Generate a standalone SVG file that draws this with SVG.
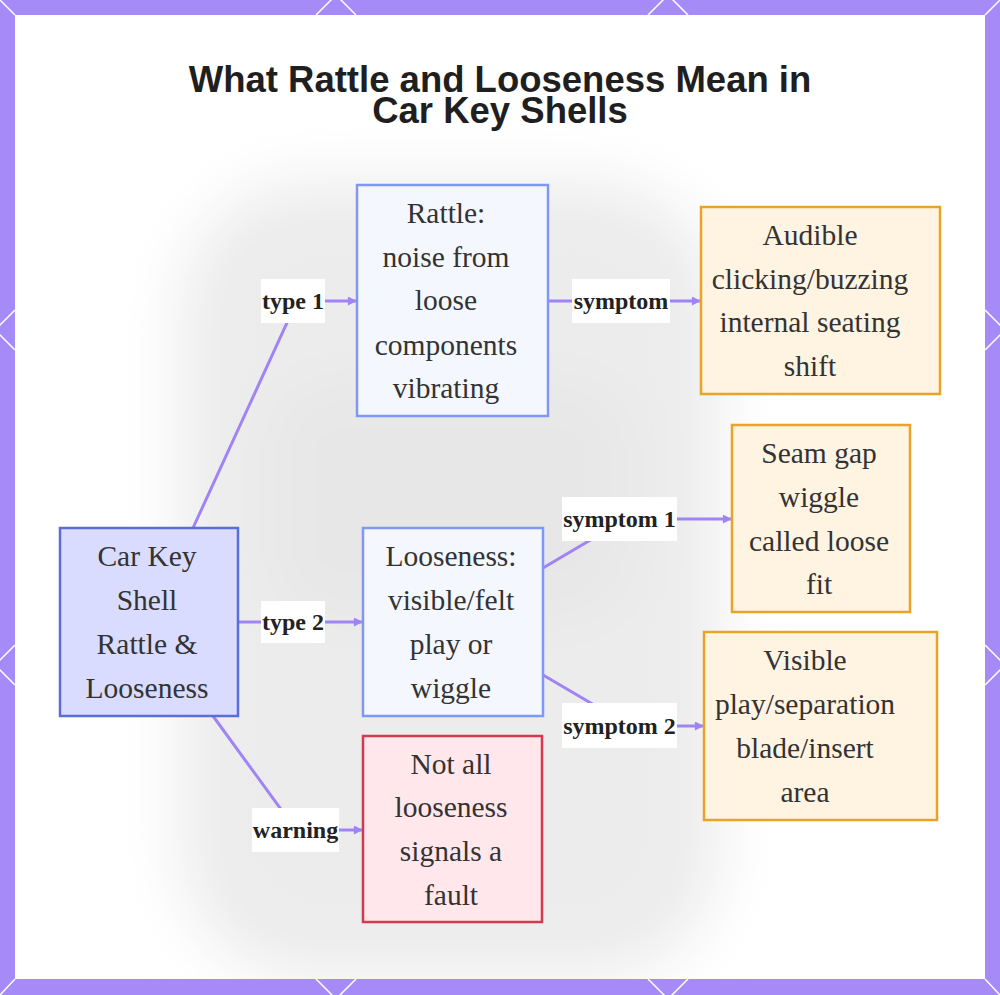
<svg xmlns="http://www.w3.org/2000/svg" width="1000" height="995" viewBox="0 0 1000 995">
<defs>
<filter id="blur" x="-30%" y="-30%" width="160%" height="160%"><feGaussianBlur stdDeviation="30"/></filter>
<clipPath id="inner"><rect x="15" y="15" width="970" height="964"/></clipPath>
<marker id="arr" viewBox="0 0 10 10" refX="9" refY="5" markerWidth="10" markerHeight="9" markerUnits="userSpaceOnUse" orient="auto"><path d="M0,0 L10,5 L0,10 z" fill="#a084f5"/></marker>
<style>
.title{font-family:"Liberation Sans",Arial,sans-serif;font-weight:bold;font-size:36.5px;fill:#1f1f1f;text-anchor:middle}
.nt{font-family:"Liberation Serif","Times New Roman",serif;font-size:29.5px;fill:#333;text-anchor:middle}
.lb{font-family:"Liberation Serif","Times New Roman",serif;font-size:24px;font-weight:bold;fill:#222;text-anchor:middle}
.lbg{fill:#ffffff}
.edge{fill:none;stroke:#a084f5;stroke-width:3}
.blue{fill:#f5f7ff;stroke:#7f97f5;stroke-width:2.5}
.root{fill:#d9dcff;stroke:#5a6ed8;stroke-width:2.5}
.warn{fill:#ffe7eb;stroke:#d23a50;stroke-width:2.5}
.sym{fill:#fff3e2;stroke:#e9a326;stroke-width:2.5}
.fl{stroke:#ffffff;stroke-width:1.5;fill:none}
</style>
</defs>
<rect x="0" y="0" width="1000" height="995" fill="#a58af8"/>
<rect x="15" y="15" width="970" height="964" fill="#ffffff"/>
<g id="background" clip-path="url(#inner)">
<g filter="url(#blur)">
<rect x="180" y="180" width="540" height="800" rx="130" fill="#ececec"/>
<rect x="270" y="380" width="360" height="240" rx="60" fill="#e7e7e7"/>
</g>
</g>
<g id="frame-lines">
<path class="fl" d="M0,0 L15,15 M1000,0 L985,15 M0,995 L15,979 M1000,995 L985,979"/>
<path class="fl" d="M316,15 L336,-5 L356,15 M648,15 L668,-5 L688,15"/>
<path class="fl" d="M316,979 L336,999 L356,979 M648,979 L668,999 L688,979"/>
<path class="fl" d="M15,310 L-5,330 L15,350 M15,645 L-5,665 L15,685"/>
<path class="fl" d="M985,310 L1005,330 L985,350 M985,645 L1005,665 L985,685"/>
</g>
<g id="title">
<text class="title" x="500" y="92">What Rattle and Looseness Mean in</text>
<text class="title" x="500" y="123">Car Key Shells</text>
</g>
<g id="connectors">
<path class="edge" d="M193,528 L297,301 L356,301" marker-end="url(#arr)"/>
<path class="edge" d="M238,622 L362,622" marker-end="url(#arr)"/>
<path class="edge" d="M213,716 L296,830 L362,830" marker-end="url(#arr)"/>
<path class="edge" d="M548,301 L700,301" marker-end="url(#arr)"/>
<path class="edge" d="M543,568 L626,519 L731,519" marker-end="url(#arr)"/>
<path class="edge" d="M543,675 L630,726 L703,726" marker-end="url(#arr)"/>
<rect class="lbg" x="261" y="279" width="64" height="44"/>
<text class="lb" x="293" y="309">type 1</text>
<rect class="lbg" x="261" y="601" width="64" height="42"/>
<text class="lb" x="293" y="630">type 2</text>
<rect class="lbg" x="252" y="808" width="87" height="44"/>
<text class="lb" x="295.5" y="838">warning</text>
<rect class="lbg" x="572" y="279" width="98" height="44"/>
<text class="lb" x="621" y="309">symptom</text>
<rect class="lbg" x="562" y="497" width="115" height="44"/>
<text class="lb" x="619.5" y="527">symptom 1</text>
<rect class="lbg" x="562" y="703" width="115" height="45"/>
<text class="lb" x="619.5" y="734">symptom 2</text>
</g>
<g id="node-root">
<rect class="root" x="60" y="528" width="178" height="188"/>
<text class="nt" x="147" y="566">Car Key</text>
<text class="nt" x="147" y="610">Shell</text>
<text class="nt" x="147" y="654">Rattle &amp;</text>
<text class="nt" x="147" y="698">Looseness</text>
</g>
<g id="node-rattle">
<rect class="blue" x="357" y="185" width="191" height="231"/>
<text class="nt" x="446" y="223">Rattle:</text>
<text class="nt" x="446" y="267">noise from</text>
<text class="nt" x="446" y="310">loose</text>
<text class="nt" x="446" y="355">components</text>
<text class="nt" x="446" y="398">vibrating</text>
</g>
<g id="node-looseness">
<rect class="blue" x="363" y="528" width="180" height="188"/>
<text class="nt" x="451" y="566">Looseness:</text>
<text class="nt" x="451" y="610">visible/felt</text>
<text class="nt" x="451" y="654">play or</text>
<text class="nt" x="451" y="698">wiggle</text>
</g>
<g id="node-warning">
<rect class="warn" x="363" y="736" width="179" height="186"/>
<text class="nt" x="451" y="774">Not all</text>
<text class="nt" x="451" y="817">looseness</text>
<text class="nt" x="451" y="861">signals a</text>
<text class="nt" x="451" y="905">fault</text>
</g>
<g id="node-audible">
<rect class="sym" x="701" y="207" width="239" height="187"/>
<text class="nt" x="810" y="245">Audible</text>
<text class="nt" x="810" y="289">clicking/buzzing</text>
<text class="nt" x="810" y="332">internal seating</text>
<text class="nt" x="810" y="376">shift</text>
</g>
<g id="node-seam">
<rect class="sym" x="732" y="425" width="178" height="187"/>
<text class="nt" x="819" y="463">Seam gap</text>
<text class="nt" x="819" y="507">wiggle</text>
<text class="nt" x="819" y="551">called loose</text>
<text class="nt" x="819" y="594">fit</text>
</g>
<g id="node-visible">
<rect class="sym" x="704" y="632" width="233" height="188"/>
<text class="nt" x="805" y="670">Visible</text>
<text class="nt" x="805" y="714">play/separation</text>
<text class="nt" x="805" y="758">blade/insert</text>
<text class="nt" x="805" y="802">area</text>
</g>
</svg>
